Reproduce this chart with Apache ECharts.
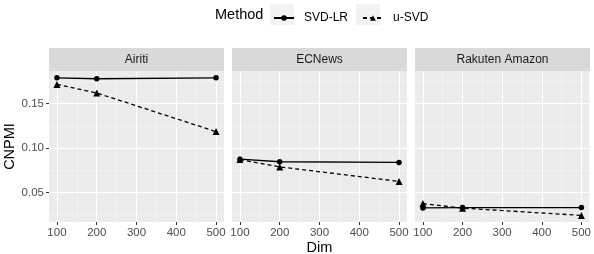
<!DOCTYPE html>
<html><head><meta charset="utf-8">
<script src="https://cdn.jsdelivr.net/npm/echarts@6/dist/echarts.min.js"></script>
<style>html,body{margin:0;padding:0;background:#fff}#c{width:594px;height:254px}</style>
</head><body><div id="c"></div>
<script>
const panels = ['Airiti', 'ECNews', 'Rakuten Amazon'];
const dims = [100, 200, 500];
const svdLR = [[0.1790, 0.1780, 0.1790], [0.0875, 0.0846, 0.0838], [0.0326, 0.0330, 0.0330]];
const uSVD = [[0.1716, 0.1620, 0.1185], [0.0870, 0.0788, 0.0625], [0.0375, 0.0324, 0.0242]];
const xTicks = [100, 200, 300, 400, 500];
const xMinor = [150, 250, 350, 450];
const yTicks = [0.05, 0.10, 0.15];
const yMinor = [0.025, 0.075, 0.125, 0.175];
const seriesNames = ['SVD-LR', 'u-SVD'];

const FONT = 'Liberation Sans, Arial, sans-serif';
const panelLeft = [49, 232, 415];
const panelW = 175, panelTop = 71, panelH = 151;
const xMin = 80, xMax = 520, yMin = 0.0168, yMax = 0.1867;

const grids = [], xAxes = [], yAxes = [], series = [], graphics = [];
panels.forEach((p, i) => {
  grids.push({left: panelLeft[i], top: panelTop, width: panelW, height: panelH,
    show: true, backgroundColor: '#EBEBEB', borderWidth: 0});
  // minor axes
  xAxes.push({type: 'value', gridIndex: i, min: xMin, max: xMax, position: 'bottom', z: 0,
    axisLine: {show: false}, axisTick: {show: false, customValues: xMinor},
    axisLabel: {show: false, customValues: xMinor},
    splitLine: {show: true, lineStyle: {color: '#F6F6F6', width: 0.6}}});
  yAxes.push({type: 'value', gridIndex: i, min: yMin, max: yMax, position: 'left', z: 0,
    axisLine: {show: false}, axisTick: {show: false, customValues: yMinor},
    axisLabel: {show: false, customValues: yMinor},
    splitLine: {show: true, lineStyle: {color: '#F6F6F6', width: 0.6}}});
  // major axes
  xAxes.push({type: 'value', gridIndex: i, min: xMin, max: xMax, position: 'bottom', z: 1,
    axisLine: {show: false},
    axisTick: {show: true, length: 3, customValues: xTicks, lineStyle: {color: '#333333', width: 1}},
    axisLabel: {customValues: xTicks, color: '#4D4D4D', fontSize: 11.5, fontFamily: FONT, margin: 5},
    splitLine: {show: true, lineStyle: {color: '#FFFFFF', width: 1.1}}});
  yAxes.push({type: 'value', gridIndex: i, min: yMin, max: yMax, position: 'left', z: 1,
    axisLine: {show: false},
    axisTick: {show: i === 0, length: 3, customValues: yTicks, lineStyle: {color: '#333333', width: 1}},
    axisLabel: {show: i === 0, customValues: yTicks, color: '#4D4D4D', fontSize: 11.5, fontFamily: FONT, margin: 5,
      formatter: v => v.toFixed(2)},
    splitLine: {show: true, lineStyle: {color: '#FFFFFF', width: 1.1}}});
  series.push({name: seriesNames[0], type: 'line', xAxisIndex: 2 * i + 1, yAxisIndex: 2 * i + 1,
    data: dims.map((d, k) => [d, svdLR[i][k]]), symbol: 'circle', symbolSize: 5.5,
    lineStyle: {color: '#000', width: 1.3, type: 'solid'}, itemStyle: {color: '#000'}, z: 3, animation: false});
  series.push({name: seriesNames[1], type: 'line', xAxisIndex: 2 * i + 1, yAxisIndex: 2 * i + 1,
    data: dims.map((d, k) => [d, uSVD[i][k]]), symbol: 'triangle', symbolSize: 7,
    lineStyle: {color: '#000', width: 1.3, type: [4, 3]}, itemStyle: {color: '#000'}, z: 2, animation: false});
  graphics.push({type: 'rect', shape: {x: panelLeft[i], y: 48, width: panelW, height: 23},
    style: {fill: '#D9D9D9'}});
  graphics.push({type: 'text', x: panelLeft[i] + panelW / 2, y: 59.5,
    style: {text: p, fill: '#1A1A1A', font: '12px ' + FONT, align: 'center', verticalAlign: 'middle'}});
});

// axis titles and legend title
graphics.push({type: 'text', x: 319.5, y: 248, style: {text: 'Dim', fill: '#000', font: '14.5px ' + FONT, align: 'center', verticalAlign: 'middle'}});
graphics.push({type: 'text', x: 10, y: 146.5, rotation: Math.PI / 2, style: {text: 'CNPMI', fill: '#000', font: '14.5px ' + FONT, align: 'center', verticalAlign: 'middle'}});
graphics.push({type: 'text', x: 215, y: 14.5, style: {text: 'Method', fill: '#000', font: '14.5px ' + FONT, align: 'left', verticalAlign: 'middle'}});
graphics.push({type: 'rect', shape: {x: 270, y: 4, width: 24, height: 21}, style: {fill: '#F2F2F2'}, z: -1});
graphics.push({type: 'rect', shape: {x: 356, y: 4, width: 24, height: 21}, style: {fill: '#F2F2F2'}, z: -1});

const chart = echarts.init(document.getElementById('c'), null, {renderer: 'canvas'});
chart.setOption({
  animation: false,
  grid: grids, xAxis: xAxes, yAxis: yAxes, series: series,
  legend: {data: seriesNames, left: 268, top: 7, itemWidth: 20, itemHeight: 7, itemGap: 14,
    textStyle: {fontSize: 12, fontFamily: FONT, color: '#000', padding: [0, 0, 0, 5]}},
  graphic: graphics
});
</script></body></html>
